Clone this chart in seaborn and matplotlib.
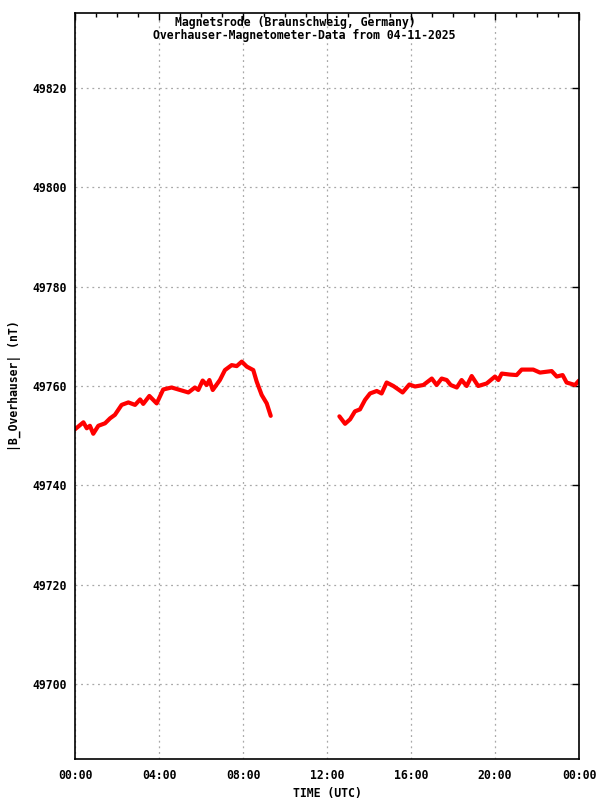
import matplotlib
matplotlib.use('Agg')
import matplotlib.pyplot as plt
import pandas as pd
import seaborn as sns
import numpy as np
from matplotlib.ticker import MultipleLocator, FuncFormatter

# values (hours UTC, nT)
hours_a = [0.0, 0.40, 0.56, 0.71, 0.87, 1.11, 1.43, 1.67, 1.90, 2.22, 2.54, 2.86, 3.10,
           3.25, 3.54, 3.89, 4.20, 4.60, 5.00, 5.40, 5.71, 5.87, 6.08, 6.27, 6.40, 6.56,
           6.90, 7.14, 7.46, 7.70, 7.94, 8.18, 8.49, 8.65, 8.89, 9.13, 9.32]
field_a = [49751.3, 49752.7, 49751.5, 49752.0, 49750.4, 49752.0, 49752.5, 49753.5, 49754.2,
           49756.2, 49756.7, 49756.2, 49757.3, 49756.4, 49758.0, 49756.5, 49759.3, 49759.7,
           49759.2, 49758.7, 49759.7, 49759.2, 49761.1, 49760.2, 49761.2, 49759.2, 49761.2,
           49763.2, 49764.2, 49764.0, 49764.9, 49763.9, 49763.2, 49760.9, 49758.2, 49756.5,
           49754.0]
hours_b = [12.59, 12.86, 13.10, 13.33, 13.57, 13.81, 14.05, 14.37, 14.60, 14.84, 15.16,
           15.40, 15.60, 15.92, 16.19, 16.59, 16.99, 17.22, 17.46, 17.70, 17.89, 18.18,
           18.41, 18.65, 18.89, 19.20, 19.60, 20.00, 20.16, 20.32, 20.71, 21.03, 21.27,
           21.82, 22.14, 22.70, 22.94, 23.22, 23.41, 23.81, 24.0]
field_b = [49753.9, 49752.4, 49753.3, 49754.9, 49755.3, 49757.2, 49758.5, 49759.0, 49758.5,
           49760.7, 49760.0, 49759.3, 49758.7, 49760.3, 49759.9, 49760.2, 49761.5, 49760.2,
           49761.5, 49761.2, 49760.2, 49759.7, 49761.2, 49760.0, 49762.0, 49760.0, 49760.5,
           49761.9, 49761.2, 49762.5, 49762.3, 49762.2, 49763.3, 49763.3, 49762.7, 49763.0,
           49761.9, 49762.2, 49760.7, 49760.2, 49761.1]

df = pd.DataFrame({
    'hour': hours_a + hours_b,
    'field': field_a + field_b,
    'seg': ['a'] * len(hours_a) + ['b'] * len(hours_b),
})

sns.set_style('white')
plt.rcParams['font.family'] = ['DejaVu Sans Mono']
plt.rcParams['font.weight'] = 'bold'
plt.rcParams['text.color'] = 'black'

fig = plt.figure(figsize=(6, 8), dpi=100)
ax = fig.add_axes([0.125, 0.05125, 0.84, 0.9325])

sns.lineplot(data=df, x='hour', y='field', units='seg', estimator=None,
             color='#ff0000', linewidth=3, ax=ax)

ax.set_xlim(0, 24)
ax.set_ylim(49685, 49835)
ax.xaxis.set_major_locator(MultipleLocator(4))
ax.xaxis.set_minor_locator(MultipleLocator(1))
ax.yaxis.set_major_locator(MultipleLocator(20))
ax.xaxis.set_major_formatter(FuncFormatter(lambda v, p: '%02d:00' % (int(round(v)) % 24)))
ax.grid(True, which='major', color='#a8a8a8', linestyle=(0, (1.5, 3)), linewidth=0.9)
ax.tick_params(which='both', direction='in', top=True, right=True, labelsize=8.3, colors='black')
ax.tick_params(which='major', length=5, width=1, pad=6)
ax.tick_params(which='minor', length=3, width=1)
ax.tick_params(axis='y', which='major', pad=6)
ax.tick_params(axis='x', which='major', pad=7)
for s in ax.spines.values():
    s.set_color('black')
    s.set_linewidth(1.2)

ax.set_xlabel('')
ax.set_ylabel('')
fig.text(327 / 600, 1 - 793 / 800, 'TIME (UTC)', ha='center', va='center',
         fontsize=8.3, fontweight='bold')
fig.text(14 / 600, 0.5175, '|B_Overhauser| (nT)', ha='center', va='center', rotation=90,
         fontsize=8.3, fontweight='bold')

fig.text(295.5 / 600, 1 - 26 / 800, 'Magnetsrode (Braunschweig, Germany)', ha='center',
         va='baseline', fontsize=8.3, fontweight='bold')
fig.text(304 / 600, 1 - 38.5 / 800, 'Overhauser-Magnetometer-Data from 04-11-2025', ha='center',
         va='baseline', fontsize=8.3, fontweight='bold')

fig.savefig('out.png', dpi=100, facecolor='white')
